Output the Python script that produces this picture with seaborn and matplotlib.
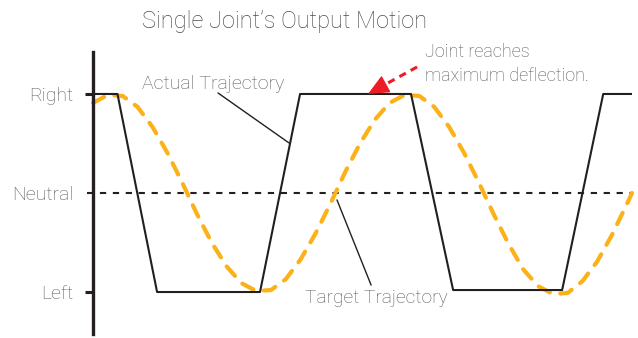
import matplotlib
matplotlib.use("Agg")
import matplotlib.pyplot as plt
import seaborn as sns

# Data (time in seconds, position: -1 = Left, 0 = Neutral, 1 = Right)
actual_t = [0.0, 0.165, 0.432, 1.126, 1.396, 2.144, 2.428, 3.163, 3.44, 3.634]
actual_pos = [1.0, 1.0, -1.0, -1.0, 1.0, 1.0, -0.98, -0.98, 1.0, 1.0]

target_t = [0.0, 0.1, 0.2, 0.3, 0.4, 0.5, 0.6, 0.7, 0.8, 0.9,
            1.0, 1.1, 1.2, 1.3, 1.4, 1.5, 1.6, 1.7, 1.8, 1.9,
            2.0, 2.1, 2.2, 2.3, 2.4, 2.5, 2.6, 2.7, 2.8, 2.9,
            3.0, 3.1, 3.2, 3.3, 3.4, 3.5, 3.6, 3.634]
target_pos = [0.91, 0.99, 0.98, 0.87, 0.67, 0.41, 0.11, -0.21, -0.50, -0.74,
              -0.91, -0.99, -0.98, -0.87, -0.67, -0.41, -0.11, 0.21, 0.50, 0.74,
              0.91, 0.99, 0.98, 0.87, 0.67, 0.41, 0.11, -0.21, -0.51, -0.77,
              -0.94, -1.02, -1.01, -0.89, -0.69, -0.42, -0.11, 0.0]

tick_pos = [-1, 0, 1]
tick_labels = ["Left", "Neutral", "Right"]

sns.set_theme(style="white")
plt.rcParams["font.family"] = ["Roboto", "DejaVu Sans"]
plt.rcParams["font.weight"] = "light"

text_col = "#58595b"
dark = "#231f20"
orange = "#fbb117"
red = "#ed1c24"

fig = plt.figure(figsize=(6.38, 3.38), dpi=100)
ax = fig.add_axes([93 / 638, 4 / 338, 539 / 638, 282 / 338])

# neutral reference line
ax.plot([-0.04, 3.64], [0, 0], color=dark, lw=1.5, ls=(0, (3, 3.2)), clip_on=False)

sns.lineplot(x=target_t, y=target_pos, ax=ax, color=orange, lw=3.0,
             linestyle=(0, (3, 2.6)), dash_capstyle="round", clip_on=False)
sns.lineplot(x=actual_t, y=actual_pos, ax=ax, color=dark, lw=1.5)

ax.set_xlim(0, 3.634)
ax.set_ylim(-1.424, 1.424)
ax.set_xticks([])
ax.set_yticks(tick_pos)
ax.set_yticklabels(tick_labels, fontsize=14, color=text_col)
ax.tick_params(axis="y", length=6, width=2.2, color=dark, pad=8, left=True)
ax.yaxis.get_major_ticks()[1].tick1line.set_visible(False)

for s in ["top", "right", "bottom"]:
    ax.spines[s].set_visible(False)
ax.spines["left"].set_color(dark)
ax.spines["left"].set_linewidth(2.4)

# annotations
ax.text(0.33, 1.05, "Actual Trajectory", fontsize=14, color=text_col,
        ha="left", va="baseline")
ax.plot([0.843, 1.322], [1.01, 0.505], color=dark, lw=1.0)

ax.text(1.43, -1.11, "Target Trajectory", fontsize=13.8, color=text_col,
        ha="left", va="baseline")
ax.plot([1.645, 1.875], [-0.07, -0.93], color=dark, lw=1.0)

ax.text(2.239, 1.37, "Joint reaches", fontsize=13, color=text_col,
        ha="left", va="baseline")
ax.text(2.239, 1.13, "maximum deflection.", fontsize=13, color=text_col,
        ha="left", va="baseline")
# red dashed arrow: dashed shaft plus a solid head
ax.plot([2.185, 1.93], [1.273, 1.063], color=red, lw=2.2, ls=(0, (2.4, 1.8)))
ax.annotate("", xy=(1.854, 1.0), xytext=(1.94, 1.071),
            arrowprops=dict(arrowstyle="-|>,head_length=1.1,head_width=0.5",
                            color=red, lw=1.0, shrinkA=0, shrinkB=0))

fig.text(142 / 638, 1 - 28 / 338, "Single Joint\u2019s Output Motion",
         fontsize=17, color="#4d4d4f", ha="left", va="baseline")

fig.savefig("out.png", dpi=100)
